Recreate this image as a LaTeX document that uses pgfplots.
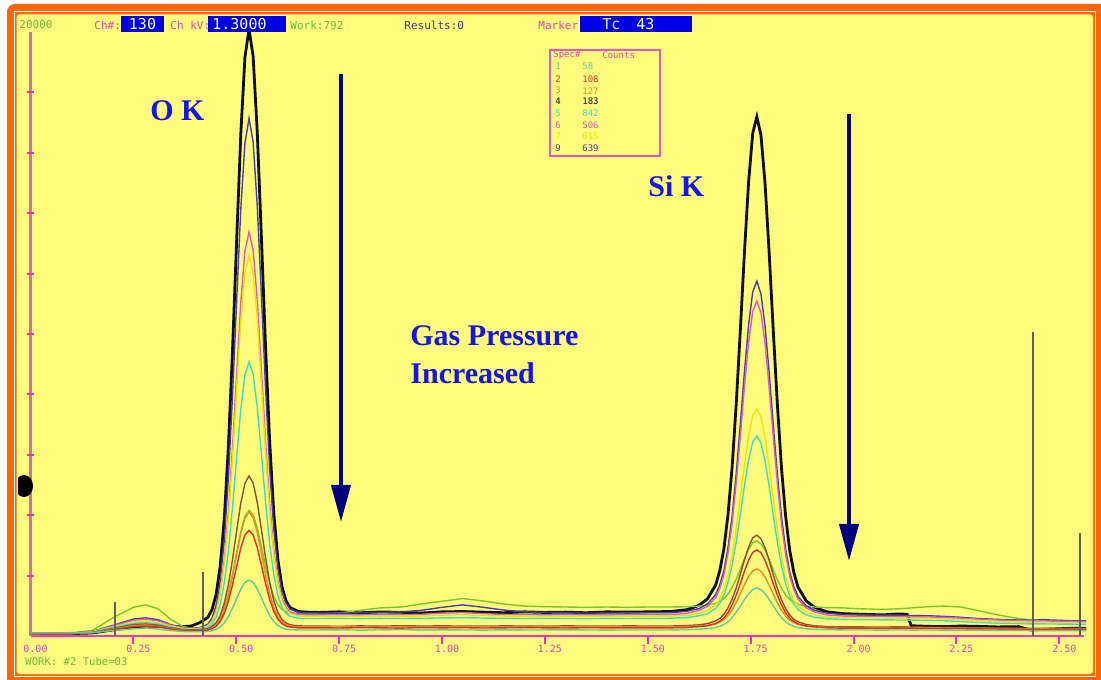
\documentclass[border=0pt]{standalone}
\usepackage{pgfplots}
\pgfplotsset{compat=1.18}
\usepackage{pgfplotstable}
\usepackage{fontspec}
\setmainfont{Liberation Serif}
\newfontfamily\pixfont{DejaVu Sans Mono}
\usetikzlibrary{arrows.meta}

% frame and screen colours
\definecolor{frameorange}{RGB}{255,102,0}
\definecolor{chartyellow}{RGB}{255,252,125}
\definecolor{axmag}{RGB}{255,50,200}
\definecolor{axpink}{RGB}{210,110,175}
\definecolor{tickmag}{RGB}{255,40,190}
\definecolor{labmag}{RGB}{225,70,180}
\definecolor{hdrgreen}{RGB}{100,190,60}
\definecolor{hdrslate}{RGB}{60,60,105}
\definecolor{boxblue}{RGB}{0,0,230}
\definecolor{annblue}{RGB}{20,20,235}
\definecolor{arrownavy}{RGB}{0,0,125}
\definecolor{markgray}{RGB}{95,95,95}
% spectrum colours
\definecolor{cK}{RGB}{15,15,15}
\definecolor{cN}{RGB}{70,60,175}
\definecolor{cM}{RGB}{225,90,190}
\definecolor{cY}{RGB}{240,228,0}
\definecolor{cC}{RGB}{60,220,200}
\definecolor{cB}{RGB}{140,80,50}
\definecolor{cO}{RGB}{230,140,40}
\definecolor{cR}{RGB}{225,45,35}
\definecolor{cT}{RGB}{90,205,160}
\definecolor{cL}{RGB}{120,200,40}

% energy (keV) and counts for each spectrum
\pgfplotstableread{
x     K     N     M     Y     C     B    O    R    T    L
0.000 80    80    80    80    80    80   80   80   100  100
0.100 80    90    85    85    85    80   80   80   100  110
0.150 100   150   140   140   130   120  110  110  110  180
0.200 200   350   330   300   280   250  230  210  180  600
0.250 300   560   520   470   420   380  340  310  240  950
0.280 330   600   560   500   450   400  360  330  260  1030
0.310 320   540   500   450   400   360  320  300  230  900
0.340 300   380   360   330   300   270  240  230  180  560
0.370 310   280   270   255   235   215  195  180  150  320
0.391 330   260   250   240   220   200  180  170  140  250
0.411 440   275   260   250   230   205  180  170  140  250
0.431 620   390   350   330   290   240  210  195  150  280
0.441 870   590   510   480   390   300  260  235  170  330
0.451 1370  1010  840   790   620   430  360  320  220  440
0.461 2315  1830  1470  1390  1050  670  540  480  300  640
0.471 3900  3190  2530  2390  1760  1090 860  750  440  960
0.481 6310  5260  4140  3900  2840  1710 1340 1160 650  1430
0.491 9490  8000  6280  5910  4280  2540 1980 1700 930  2060
0.501 13130 11130 8700  8200  5920  3490 2700 2310 1240 2770
0.511 16620 14130 11040 10400 7490  4400 3400 2910 1550 3450
0.521 19150 16310 12740 11990 8640  5050 3900 3340 1770 3960
0.531 20100 17140 13380 12600 9070  5300 4100 3500 1850 4160
0.541 19190 16360 12780 12030 8670  5070 3920 3350 1780 4020
0.551 16690 14250 11140 10490 7570  4430 3430 2930 1560 3580
0.561 13240 11310 8870  8350  6050  3530 2750 2350 1270 2970
0.571 9630  8250  6500  6120  4460  2610 2040 1750 960  2320
0.581 6480  5580  4430  4160  3070  1790 1420 1220 690  1750
0.591 4100  3570  2870  2700  2030  1180 950  820  480  1320
0.601 2550  2250  1850  1730  1350  780  645  560  350  1040
0.611 1630  1470  1250  1170  950   550  465  410  270  880
0.621 1160  1080  950   880   750   430  370  330  230  800
0.631 940   890   800   740   650   370  330  295  210  760
0.651 810   775   710   660   590   335  300  270  200  740
0.671 790   760   700   650   580   330  300  270  200  740
0.700 780   760   700   650   580   330  300  270  200  740
0.750 800   755   705   645   585   320  305  265  205  760
0.800 770   770   700   650   575   335  295  275  195  850
0.850 795   780   710   655   590   325  300  270  200  930
0.900 785   800   705   650   580   340  310  260  210  960
0.950 760   850   720   660   585   330  295  280  200  1060
1.000 800   950   760   690   600   335  305  270  205  1150
1.050 810   1030  780   700   605   330  300  275  200  1240
1.100 790   950   740   680   595   325  310  265  195  1160
1.150 770   860   715   660   585   335  300  270  205  1060
1.200 800   800   705   655   580   330  295  280  200  990
1.250 780   780   700   650   585   325  305  270  200  970
1.300 790   770   705   645   580   335  300  265  205  960
1.350 770   760   700   650   575   330  300  275  200  950
1.400 800   760   700   655   585   325  305  270  195  960
1.450 790   765   705   650   580   335  295  270  200  950
1.500 800   770   705   655   585   330  300  270  200  960
1.555 810   770   710   660   590   330  300  270  200  960
1.595 870   820   750   680   610   345  310  280  210  970
1.625 1020  910   850   750   670   370  330  310  220  990
1.645 1230  1060  980   840   740   410  350  340  240  1020
1.665 1690  1370  1270  1030  910   500  410  410  280  1080
1.675 2170  1690  1580  1230  1090  580  460  490  320  1150
1.685 2890  2170  2030  1530  1360  720  550  600  380  1240
1.695 4030  2930  2750  2010  1770  930  680  780  470  1390
1.705 5610  3990  3750  2670  2360  1220 870  1030 610  1610
1.715 7710  5400  5090  3550  3130  1600 1110 1360 790  1890
1.725 10160 7040  6640  4580  4030  2050 1400 1740 990  2210
1.735 12740 8770  8270  5660  4990  2530 1700 2150 1210 2560
1.745 15040 10310 9730  6630  5830  2950 1970 2510 1400 2870
1.755 16650 11390 10750 7300  6430  3250 2160 2770 1540 3080
1.765 17190 11750 11090 7520  6620  3340 2220 2850 1590 3150
1.775 16580 11330 10700 7250  6390  3220 2140 2760 1540 3050
1.785 14970 10250 9680  6580  5790  2920 1950 2500 1400 2840
1.795 12670 8710  8220  5610  4950  2500 1680 2140 1210 2530
1.805 10090 6980  6590  4530  3990  2020 1380 1730 990  2180
1.815 7640  5340  5040  3500  3090  1570 1090 1350 790  1860
1.825 5540  3930  3700  2620  2320  1190 850  1020 610  1580
1.835 3960  2870  2700  1960  1730  900  660  770  470  1360
1.845 2820  2110  1980  1480  1320  690  530  590  380  1210
1.855 2100  1630  1530  1180  1050  550  440  480  320  1120
1.865 1620  1310  1220  980   870   470  390  400  280  1050
1.885 1160  1000  930   790   700   380  330  330  240  990
1.905 950   850   800   700   620   340  310  300  220  960
1.935 800   760   700   630   570   315  290  270  210  940
1.975 740   710   660   610   550   300  280  260  200  930
2.020 720   700   650   600   540   300  280  260  200  900
2.070 700   690   645   595   535   295  285  255  195  880
2.110 730   690   640   590   530   305  275  260  200  900
2.130 720   680   640   590   530   300  280  255  200  920
2.140 340   680   635   585   525   295  280  260  195  930
2.180 320   670   630   580   520   290  275  250  200  970
2.220 310   650   615   565   505   285  265  245  195  990
2.260 330   620   590   540   480   280  260  240  190  960
2.300 320   580   560   510   450   275  255  235  190  850
2.350 300   550   530   480   425   265  245  230  185  700
2.400 310   530   510   460   410   260  240  225  185  580
2.430 200   520   500   450   400   255  235  220  180  540
2.460 220   540   500   450   400   255  235  220  180  520
2.500 240   520   490   440   395   250  230  220  180  480
2.540 260   500   480   430   390   250  230  215  180  470
2.565 250   500   480   430   390   250  230  215  180  470
}\spectra

\begin{document}
\begin{tikzpicture}
\useasboundingbox (0,0) rectangle (550.5pt,339.5pt);

% screen frame (one unit = one screen pixel, y downwards)
\begin{scope}[x=0.5pt,y=-0.5pt,shift={(0,339.5pt)}]
  \fill[white] (0,0) rectangle (1101,679);
  \fill[frameorange, rounded corners=4pt] (7,4) rectangle (1125,700);
  \fill[white] (14,11.5) rectangle (1095.5,676.5);
  \fill[frameorange] (15,12.5) rectangle (1094.5,675.5);
  \fill[chartyellow, rounded corners=1.5pt] (16.5,14.5) rectangle (1093,674);
\end{scope}

\begin{axis}[
  at={(15.25pt,21.5pt)}, anchor=south west,
  scale only axis, width=526.75pt, height=302pt,
  xmin=0, xmax=2.56, ymin=0, ymax=20000,
  clip=false,
  axis x line=bottom, axis y line=left,
  axis line style={-},
  x axis line style={color=axmag, line width=1.4pt},
  y axis line style={color=axpink, line width=1.1pt},
  xtick={0,0.25,0.5,0.75,1,1.25,1.5,1.75,2,2.25,2.5},
  xticklabels={0.00,0.25,0.50,0.75,1.00,1.25,1.50,1.75,2.00,2.25,2.50},
  ytick={2000,4000,6000,8000,10000,12000,14000,16000,18000},
  yticklabels={},
  major tick length=0pt,
  xticklabel style={font=\pixfont\fontsize{5}{6}\selectfont, text=labmag,
    inner sep=0pt, xshift=2.5pt, yshift=-4.5pt},
  scaled y ticks=false,
]
% spectra, lowest gas pressure first
\addplot[cK, line width=1.4pt] table[x=x, y=K] {\spectra};
\addplot[cL, line width=0.7pt] table[x=x, y=L] {\spectra};
\addplot[cN, line width=0.7pt] table[x=x, y=N] {\spectra};
\addplot[cM, line width=0.7pt] table[x=x, y=M] {\spectra};
\addplot[cY, line width=0.7pt] table[x=x, y=Y] {\spectra};
\addplot[cC, line width=0.7pt] table[x=x, y=C] {\spectra};
\addplot[cB, line width=0.7pt] table[x=x, y=B] {\spectra};
\addplot[cO, line width=0.7pt] table[x=x, y=O] {\spectra};
\addplot[cR, line width=0.7pt] table[x=x, y=R] {\spectra};
\addplot[cT, line width=0.7pt] table[x=x, y=T] {\spectra};
% element marker lines
\addplot[markgray, line width=0.7pt] coordinates {(0.205,0) (0.205,1130)};
\addplot[markgray, line width=0.7pt] coordinates {(0.419,0) (0.419,2120)};
\addplot[markgray, line width=0.7pt] coordinates {(2.436,0) (2.436,10070)};
\addplot[markgray, line width=0.7pt] coordinates {(2.550,0) (2.550,3410)};
% tick marks: below the energy axis, across the count axis
\pgfplotsinvokeforeach{0.25,0.5,0.75,1,1.25,1.5,1.75,2,2.25,2.5}{
  \addplot[tickmag, line width=1pt] coordinates {(#1,-40) (#1,-260)};
}
\pgfplotsinvokeforeach{2000,4000,6000,8000,10000,12000,14000,16000,18000}{
  \addplot[tickmag, line width=1pt] coordinates {(-0.0095,#1) (0.0095,#1)};
}
\end{axis}

\begin{scope}[x=0.5pt,y=-0.5pt,shift={(0,339.5pt)}]
  % status line
  \tikzset{hdr/.style={anchor=west, inner sep=0pt, font=\pixfont\fontsize{5.5}{6}\selectfont}}
  \node[hdr, text=hdrgreen] at (19,25) {20000};
  \node[hdr, text=labmag] at (94,25) {Ch\#:};
  \fill[boxblue] (121,16) rectangle (164,32);
  \node[inner sep=0pt, text=white, font=\pixfont\fontsize{7.5}{8}\selectfont] at (142.5,24.5) {130};
  \node[hdr, text=labmag] at (170,25) {Ch kV:};
  \fill[boxblue] (208,16) rectangle (286,32);
  \node[anchor=west, inner sep=0pt, text=white, font=\pixfont\fontsize{7.5}{8}\selectfont] at (212,24.5) {1.3000};
  \node[hdr, text=hdrgreen] at (290,25) {Work:792};
  \node[hdr, text=hdrslate] at (404,25) {Results:0};
  \node[hdr, text=labmag] at (538,25) {Marker:};
  \fill[boxblue] (580,16) rectangle (692,32);
  \node[anchor=west, inner sep=0pt, text=white!80!gray, font=\pixfont\fontsize{7.5}{8}\selectfont] at (602,24.5) {Tc};
  \node[anchor=west, inner sep=0pt, text=white, font=\pixfont\fontsize{7.5}{8}\selectfont] at (636,24.5) {43};

  % spectrum list
  \draw[cM, line width=0.6pt] (550,50) rectangle (660,156);
  \tikzset{lst/.style={anchor=west, inner sep=0pt, font=\pixfont\fontsize{4.5}{5}\selectfont}}
  \node[lst, text=labmag] at (553,55) {Spec\#};
  \node[lst, text=labmag] at (602,55) {Counts};
  \foreach \n/\c/\col/\yy in {1/58/cT/66.7, 2/108/cR/79.3, 3/127/cO/90.7, 4/183/cK/101.7,
      5/842/cC/113.3, 6/506/cM/125, 7/615/cY/136.7, 9/639/cN/148.3}{
    \node[lst, text=\col] at (555,\yy) {\n};
    \node[lst, text=\col] at (582,\yy) {\c};
  }

  % bottom status line
  \node[anchor=west, inner sep=0pt, text=hdrgreen, font=\pixfont\fontsize{5.3}{6}\selectfont] at (25,662) {WORK: \#2  Tube=03};

  % full-scale cursor on the count axis
  \begin{scope}
    \clip (18,470) rectangle (40,502);
    \fill[black] (24,486) ellipse [x radius=4.5pt, y radius=5.5pt];
  \end{scope}

  % annotations
  \tikzset{ann/.style={anchor=west, inner sep=0pt, text=annblue, font=\fontsize{15}{17}\selectfont\bfseries}}
  \node[ann] at (150,111) {O K};
  \node[ann] at (648,186) {Si K};
  \node[ann] at (410,336) {Gas Pressure};
  \node[ann] at (410,373) {Increased};
  \draw[arrownavy, line width=2pt, -{Triangle[length=18.5pt, width=9.5pt]}] (341,74) -- (341,522);
  \draw[arrownavy, line width=2pt, -{Triangle[length=18.5pt, width=9.5pt]}] (849,114) -- (849,561);
\end{scope}
\end{tikzpicture}
\end{document}
